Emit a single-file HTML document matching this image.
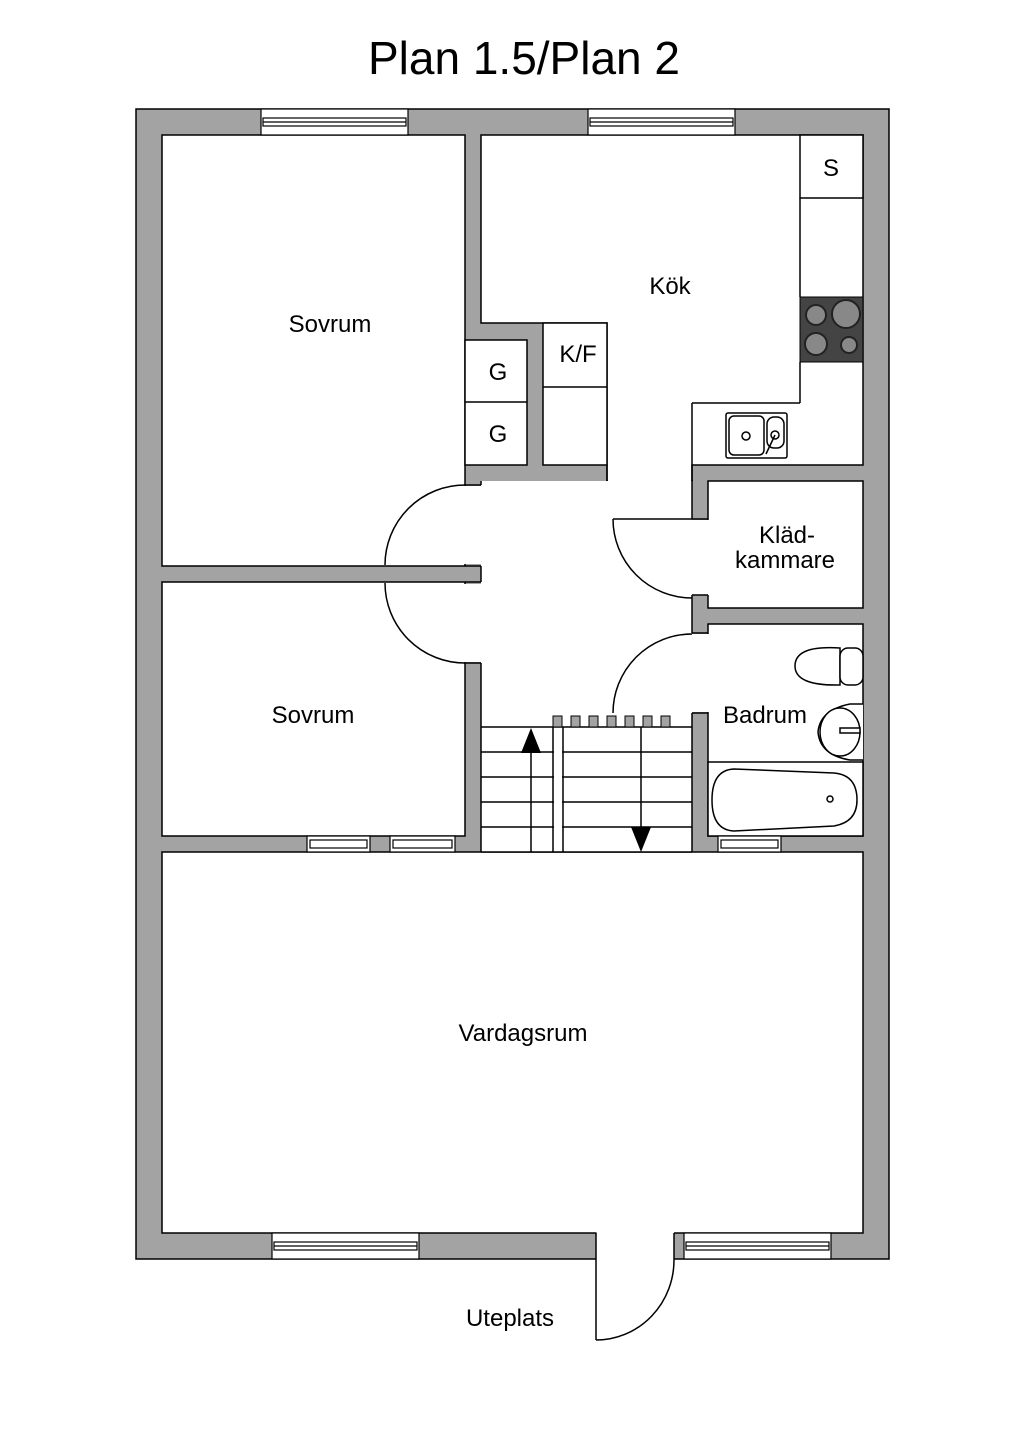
<!DOCTYPE html>
<html><head><meta charset="utf-8"><style>body{margin:0;background:#fff}svg{display:block}text{font-family:"Liberation Sans",sans-serif;fill:#000}</style></head><body>
<svg width="1024" height="1448" viewBox="0 0 1024 1448" xmlns="http://www.w3.org/2000/svg">
<text x="524" y="74" font-size="46" text-anchor="middle">Plan 1.5/Plan 2</text>
<rect x="136" y="109" width="753" height="1150" fill="#a3a3a3" stroke="#000" stroke-width="1.5"/>
<g fill="#fff" stroke="#000" stroke-width="1.5">
<rect x="162" y="135" width="303" height="431"/>
<rect x="162" y="582" width="303" height="254"/>
<path d="M481 135 H863 V465 H692 V481 H607 V323 H481 Z"/>
<rect x="465" y="340" width="62" height="125"/>
<line x1="465" y1="402" x2="527" y2="402"/>
<rect x="543" y="323" width="64" height="142"/>
<line x1="543" y1="387" x2="607" y2="387"/>
<rect x="708" y="481" width="155" height="127"/>
<rect x="708" y="624" width="155" height="212"/>
<rect x="162" y="852" width="701" height="381"/>
</g>
<!-- hallway -->
<path d="M481 481 H692 V852 H481 Z" fill="#fff"/>
<rect x="608" y="462" width="83" height="24" fill="#fff"/>
<line x1="607" y1="465" x2="607" y2="481" stroke="#000" stroke-width="1.5"/>
<line x1="692" y1="465" x2="692" y2="481" stroke="#000" stroke-width="1.5"/>
<rect x="463.5" y="486" width="22" height="78" fill="#fff"/>
<rect x="463.5" y="584" width="22" height="78" fill="#fff"/>
<rect x="688" y="520" width="24" height="75" fill="#fff"/>
<rect x="688" y="634" width="24" height="78" fill="#fff"/>
<g stroke="#000" stroke-width="1.5" fill="none">
<line x1="481" y1="481" x2="481" y2="485"/><line x1="465" y1="485" x2="481" y2="485"/>
<line x1="465" y1="566" x2="481" y2="566"/><line x1="481" y1="566" x2="481" y2="582"/><line x1="465" y1="582" x2="481" y2="582"/>
<line x1="481" y1="663" x2="481" y2="852"/><line x1="465" y1="663" x2="481" y2="663"/>
<line x1="692" y1="481" x2="692" y2="519"/><line x1="692" y1="519" x2="708" y2="519"/>
<line x1="692" y1="595" x2="692" y2="633"/><line x1="692" y1="595" x2="708" y2="595"/><line x1="692" y1="633" x2="708" y2="633"/>
<line x1="692" y1="713" x2="692" y2="852"/><line x1="692" y1="713" x2="708" y2="713"/>
<line x1="481" y1="852" x2="692" y2="852"/>
<path d="M465 485 A80 80 0 0 0 385 565"/>
<path d="M385 583 A80 80 0 0 0 465 663"/>
<path d="M613 519 H692 M613 519 A79 79 0 0 0 692 598"/>
<path d="M613 713 A79 79 0 0 1 692 634"/>
</g>
<!-- kitchen fittings -->
<g fill="none" stroke="#000" stroke-width="1.5">
<rect x="800" y="135" width="63" height="63" fill="#fff"/>
<line x1="800" y1="198" x2="800" y2="297"/>
<line x1="692" y1="403" x2="800" y2="403"/><line x1="800" y1="362" x2="800" y2="403"/>
<line x1="692" y1="403" x2="692" y2="465"/>
<rect x="726" y="413" width="61" height="45" rx="2"/>
<rect x="729" y="416" width="35" height="39" rx="5"/>
<rect x="767" y="417" width="17" height="31" rx="7"/>
<circle cx="746" cy="436" r="4"/><circle cx="775" cy="435" r="4"/><line x1="775" y1="435" x2="766" y2="454"/>
</g>
<rect x="800" y="297" width="63" height="65" fill="#444" stroke="#000"/>
<g fill="#888" stroke="#222" stroke-width="2">
<circle cx="816" cy="315" r="10"/><circle cx="846" cy="314" r="14"/><circle cx="816" cy="344" r="11"/><circle cx="849" cy="345" r="8"/>
</g>
<!-- bathroom -->
<g fill="#fff" stroke="#000" stroke-width="1.5">
<rect x="708" y="762" width="155" height="74"/>
<path d="M734 769 Q712 770 712 800 Q712 830 734 831 L834 826 Q857 822 857 800 Q857 775 834 773 Z"/>
<circle cx="830" cy="799" r="3"/>
<path d="M840 648 Q795 645 795 666 Q795 686 840 685 Z"/>
<rect x="840" y="648" width="23" height="37" rx="8"/>
<path d="M863 704 H850 Q820 710 818 732 Q820 755 850 760 H863"/>
<ellipse cx="840" cy="732" rx="20" ry="24"/>
<rect x="840" y="728" width="20" height="5"/>
</g>
<!-- stairs -->
<g stroke="#000" stroke-width="1.5" fill="none">
<line x1="481" y1="727" x2="692" y2="727"/>
<line x1="481" y1="752" x2="692" y2="752"/><line x1="481" y1="777" x2="692" y2="777"/><line x1="481" y1="802" x2="692" y2="802"/><line x1="481" y1="827" x2="692" y2="827"/>
<line x1="553" y1="727" x2="553" y2="852"/><line x1="563" y1="727" x2="563" y2="852"/>
<line x1="531" y1="740" x2="531" y2="852"/><line x1="641" y1="727" x2="641" y2="838"/>
</g>
<rect x="554" y="728" width="8" height="123" fill="#fff"/>
<polygon points="531,728 521,753 541,753" fill="#000"/>
<polygon points="631,827 651,827 641,852" fill="#000"/>
<g fill="#a3a3a3" stroke="#000">
<rect x="553" y="716" width="9" height="11"/><rect x="571" y="716" width="9" height="11"/><rect x="589" y="716" width="9" height="11"/><rect x="607" y="716" width="9" height="11"/><rect x="625" y="716" width="9" height="11"/><rect x="643" y="716" width="9" height="11"/><rect x="661" y="716" width="9" height="11"/>
</g>
<!-- windows -->
<g fill="#fff" stroke="#000" stroke-width="1.2">
<rect x="261" y="109" width="147" height="26"/><rect x="263" y="118" width="143" height="8"/><line x1="263" y1="122" x2="406" y2="122"/>
<rect x="588" y="109" width="147" height="26"/><rect x="590" y="118" width="143" height="8"/><line x1="590" y1="122" x2="733" y2="122"/>
<rect x="307" y="836" width="63" height="16"/><rect x="310" y="840" width="57" height="8"/>
<rect x="390" y="836" width="65" height="16"/><rect x="393" y="840" width="59" height="8"/>
<rect x="718" y="836" width="63" height="16"/><rect x="721" y="840" width="57" height="8"/>
<rect x="272" y="1233" width="147" height="26"/><rect x="274" y="1242" width="143" height="8"/><line x1="274" y1="1246" x2="417" y2="1246"/>
<rect x="684" y="1233" width="147" height="26"/><rect x="686" y="1242" width="143" height="8"/><line x1="686" y1="1246" x2="829" y2="1246"/>
</g>
<rect x="596.5" y="1232" width="77.5" height="28" fill="#fff"/>
<g stroke="#000" stroke-width="1.5" fill="none">
<line x1="596" y1="1233" x2="596" y2="1340"/><line x1="674" y1="1233" x2="674" y2="1259"/>
<path d="M596 1340 A78 80 0 0 0 674 1259"/>
</g>
<g font-size="24" text-anchor="middle">
<text x="330" y="332">Sovrum</text>
<text x="313" y="723">Sovrum</text>
<text x="670" y="294">Kök</text>
<text x="831" y="176">S</text>
<text x="498" y="380">G</text>
<text x="498" y="442">G</text>
<text x="578" y="362">K/F</text>
<text x="787" y="543">Kläd-</text>
<text x="785" y="568">kammare</text>
<text x="765" y="723">Badrum</text>
<text x="523" y="1041">Vardagsrum</text>
<text x="510" y="1326">Uteplats</text>
</g>
</svg>
</body></html>
